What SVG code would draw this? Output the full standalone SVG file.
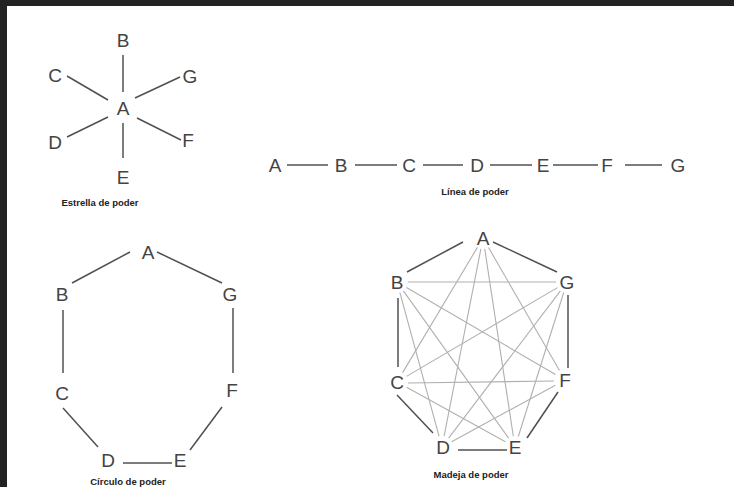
<svg xmlns="http://www.w3.org/2000/svg" width="734" height="487" viewBox="0 0 734 487">
<style>
.n{font-family:"Liberation Sans",Arial,sans-serif;font-size:19px;fill:#444;text-anchor:middle}
.cap{font-family:"Liberation Sans",Arial,sans-serif;font-size:9.5px;font-weight:bold;fill:#222;text-anchor:middle}
.e{stroke:#505050;stroke-width:1.5;fill:none}
.c{stroke:#b0b0b0;stroke-width:1.1;fill:none}
</style>
<rect width="734" height="487" fill="#ffffff"/>
<rect x="0" y="0" width="734" height="6" fill="#222"/>
<rect x="0" y="0" width="7" height="487" fill="#222"/>

<g id="connectors">
  <!-- Estrella -->
  <line class="e" x1="123" y1="55" x2="123" y2="92"/>
  <line class="e" x1="67" y1="76" x2="108" y2="100"/>
  <line class="e" x1="135" y1="98" x2="180" y2="77"/>
  <line class="e" x1="67" y1="137" x2="108" y2="117"/>
  <line class="e" x1="137" y1="118" x2="181" y2="140"/>
  <line class="e" x1="123" y1="123" x2="123" y2="158"/>
  <!-- Linea -->
  <line class="e" x1="287" y1="165" x2="328" y2="165"/>
  <line class="e" x1="355" y1="165" x2="397" y2="165"/>
  <line class="e" x1="423" y1="165" x2="463" y2="165"/>
  <line class="e" x1="490" y1="165" x2="532" y2="165"/>
  <line class="e" x1="553" y1="165" x2="598" y2="165"/>
  <line class="e" x1="625" y1="165" x2="662" y2="165"/>
  <!-- Circulo -->
  <line class="e" x1="130" y1="252" x2="72" y2="283"/>
  <line class="e" x1="157" y1="252" x2="222" y2="283"/>
  <line class="e" x1="63" y1="310" x2="63" y2="373"/>
  <line class="e" x1="233" y1="308" x2="233" y2="373"/>
  <line class="e" x1="63" y1="408" x2="98" y2="447"/>
  <line class="e" x1="222" y1="407" x2="190" y2="450"/>
  <line class="e" x1="123" y1="463" x2="172" y2="463"/>
  <!-- Madeja chords -->
  <line class="c" x1="477.4" y1="247.4" x2="402.6" y2="372.6"/>
  <line class="c" x1="480.9" y1="248.8" x2="444.1" y2="436.2"/>
  <line class="c" x1="484.7" y1="248.9" x2="513.3" y2="436.1"/>
  <line class="c" x1="488.5" y1="247.5" x2="559.5" y2="370.5"/>
  <line class="c" x1="408" y1="282" x2="556" y2="282"/>
  <line class="c" x1="399.9" y1="292.6" x2="439.1" y2="436.4"/>
  <line class="c" x1="403.4" y1="290.9" x2="508.6" y2="438.1"/>
  <line class="c" x1="406.5" y1="287.5" x2="555.5" y2="374.5"/>
  <line class="c" x1="406.5" y1="376.4" x2="557.5" y2="287.6"/>
  <line class="c" x1="408" y1="383" x2="554" y2="381"/>
  <line class="c" x1="406.6" y1="387.3" x2="505.4" y2="441.7"/>
  <line class="c" x1="448.6" y1="438.2" x2="560.4" y2="290.8"/>
  <line class="c" x1="451.7" y1="441.7" x2="555.3" y2="385.3"/>
  <line class="c" x1="518.3" y1="436.5" x2="563.7" y2="292.5"/>
  <!-- Madeja outer -->
  <line class="e" x1="463" y1="242" x2="407" y2="272"/>
  <line class="e" x1="493" y1="242" x2="557" y2="272"/>
  <line class="e" x1="398" y1="298" x2="398" y2="367"/>
  <line class="e" x1="568" y1="295" x2="568" y2="368"/>
  <line class="e" x1="397" y1="395" x2="433" y2="433"/>
  <line class="e" x1="558" y1="392" x2="527" y2="438"/>
  <line class="e" x1="458" y1="450" x2="507" y2="450"/>
</g>

<g id="estrella">
  <g id="star-A"><text class="n" x="123" y="115">A</text></g>
  <g id="star-B"><text class="n" x="123" y="47">B</text></g>
  <g id="star-C"><text class="n" x="55" y="82">C</text></g>
  <g id="star-D"><text class="n" x="55" y="149">D</text></g>
  <g id="star-E"><text class="n" x="123" y="184">E</text></g>
  <g id="star-F"><text class="n" x="188" y="147">F</text></g>
  <g id="star-G"><text class="n" x="190" y="83">G</text></g>
  <text class="cap" x="100" y="206">Estrella de poder</text>
</g>

<g id="linea">
  <g id="line-A"><text class="n" x="275" y="172">A</text></g>
  <g id="line-B"><text class="n" x="341" y="172">B</text></g>
  <g id="line-C"><text class="n" x="409" y="172">C</text></g>
  <g id="line-D"><text class="n" x="477" y="172">D</text></g>
  <g id="line-E"><text class="n" x="543" y="172">E</text></g>
  <g id="line-F"><text class="n" x="607" y="172">F</text></g>
  <g id="line-G"><text class="n" x="678" y="172">G</text></g>
  <text class="cap" x="475" y="195">Línea de poder</text>
</g>

<g id="circulo">
  <g id="circ-A"><text class="n" x="148" y="259">A</text></g>
  <g id="circ-B"><text class="n" x="62" y="301">B</text></g>
  <g id="circ-C"><text class="n" x="62" y="400">C</text></g>
  <g id="circ-D"><text class="n" x="108" y="467">D</text></g>
  <g id="circ-E"><text class="n" x="180" y="467">E</text></g>
  <g id="circ-F"><text class="n" x="232" y="397">F</text></g>
  <g id="circ-G"><text class="n" x="230" y="301">G</text></g>
  <text class="cap" x="128" y="485">Círculo de poder</text>
</g>

<g id="madeja">
  <g id="mad-A"><text class="n" x="483" y="245">A</text></g>
  <g id="mad-B"><text class="n" x="397" y="289">B</text></g>
  <g id="mad-C"><text class="n" x="397" y="389">C</text></g>
  <g id="mad-D"><text class="n" x="443" y="454">D</text></g>
  <g id="mad-E"><text class="n" x="515" y="454">E</text></g>
  <g id="mad-F"><text class="n" x="565" y="387">F</text></g>
  <g id="mad-G"><text class="n" x="567" y="289">G</text></g>
  <text class="cap" x="471" y="478">Madeja de poder</text>
</g>
</svg>
